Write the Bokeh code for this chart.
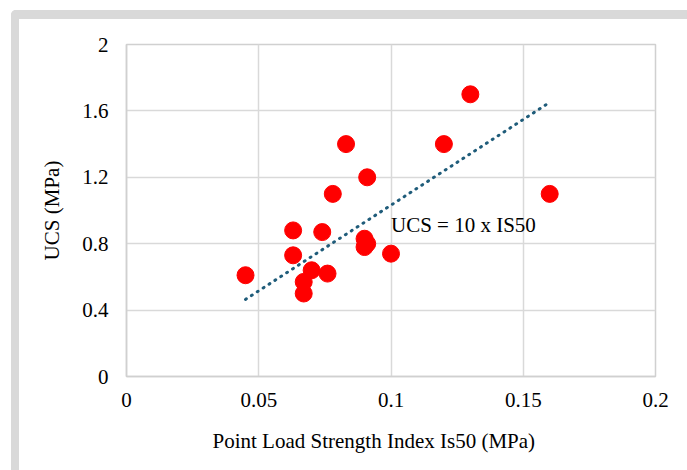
import numpy as np
from bokeh.plotting import figure
from bokeh.models import (Range1d, FixedTicker, Label, Title, ColumnDataSource,
                          InlineStyleSheet)
from bokeh.embed import file_html
from bokeh.resources import INLINE

# Data
is50 = [0.045, 0.063, 0.063, 0.074, 0.070, 0.067, 0.067, 0.076, 0.078,
        0.083, 0.091, 0.090, 0.090, 0.091, 0.100, 0.120, 0.130, 0.160]
ucs = [0.61, 0.88, 0.73, 0.87, 0.64, 0.57, 0.50, 0.62, 1.10,
       1.40, 1.20, 0.83, 0.78, 0.80, 0.74, 1.40, 1.70, 1.10]
x_ticks = [0, 0.05, 0.1, 0.15, 0.2]
y_ticks = [0, 0.4, 0.8, 1.2, 1.6, 2.0]
x_tick_labels = {0: "0", 0.05: "0.05", 0.1: "0.1", 0.15: "0.15", 0.2: "0.2"}
y_tick_labels = {0: "0", 0.4: "0.4", 0.8: "0.8", 1.2: "1.2", 1.6: "1.6", 2.0: "2"}
x_title = "Point Load Strength Index Is50 (MPa)"
y_title = "UCS (MPa)"
eq_text = "UCS = 10 x IS50"

FONT = "Liberation Serif"
FS = "21px"
GRID = "#d9d9d9"

frame_css = InlineStyleSheet(css="""
:host { position: relative; }
:host::after {
  content: ""; position: absolute; left: 11px; top: 10px; right: -30px; bottom: -30px;
  border-left: 8px solid #d9d9d9; border-top: 9px solid #d9d9d9;
  border-top-left-radius: 5px; pointer-events: none; z-index: 5;
}
""")

p = figure(width=687, height=470, output_backend="svg", toolbar_location=None,
           x_range=Range1d(0, 0.2), y_range=Range1d(0, 2.0),
           min_border_left=126, min_border_right=32, min_border_top=44,
           min_border_bottom=94)
p.stylesheets = [frame_css]
p.background_fill_color = "white"
p.border_fill_color = "white"
p.outline_line_color = "#d0d0d0"
p.outline_line_width = 1.5

for ax, ticks, labels in ((p.xaxis[0], x_ticks, x_tick_labels), (p.yaxis[0], y_ticks, y_tick_labels)):
    ax.ticker = FixedTicker(ticks=ticks)
    ax.major_label_overrides = labels
    ax.major_tick_in = 0
    ax.major_tick_out = 0
    ax.minor_tick_in = 0
    ax.minor_tick_out = 0
    ax.axis_line_color = "#d0d0d0"
    ax.axis_line_width = 1.5
    ax.major_label_text_font = FONT
    ax.major_label_text_font_size = FS
    ax.major_label_text_color = "black"

p.yaxis[0].major_label_standoff = 18
p.xaxis[0].major_label_standoff = 16
p.yaxis[0].axis_label = y_title
p.yaxis[0].axis_label_text_font = FONT
p.yaxis[0].axis_label_text_font_size = FS
p.yaxis[0].axis_label_text_font_style = "normal"
p.yaxis[0].axis_label_text_color = "black"
p.yaxis[0].axis_label_standoff = 15

p.grid.grid_line_color = GRID
p.grid.grid_line_width = 1.5
p.xgrid.ticker = FixedTicker(ticks=x_ticks)
p.ygrid.ticker = FixedTicker(ticks=y_ticks)

# Trendline: linear fit through origin, from min to max x
xa = np.array(is50)
ya = np.array(ucs)
slope = float((xa * ya).sum() / (xa * xa).sum())
tx = [float(xa.min()), float(xa.max())]
ty = [slope * v for v in tx]

src = ColumnDataSource(dict(x=is50, y=ucs))
p.scatter("x", "y", source=src, size=17, fill_color="#ff0000", line_color="#ff0000")
p.line(tx, ty, line_color="#1f5c7a", line_width=3, line_dash="1 6", line_cap="round")

p.add_layout(Label(x=0.1, y=0.91, text=eq_text, text_font=FONT,
                   text_font_size=FS, text_color="black", text_baseline="alphabetic"))

# x axis title, slightly left of the frame centre as in the original
xt = Title(text=x_title, align="left", offset=86, text_font=FONT,
           text_font_size=FS, text_font_style="normal", text_color="black",
           text_line_height=0.5, standoff=34)
p.add_layout(xt, "below")

open("out.html", "w").write(file_html(p, INLINE))
